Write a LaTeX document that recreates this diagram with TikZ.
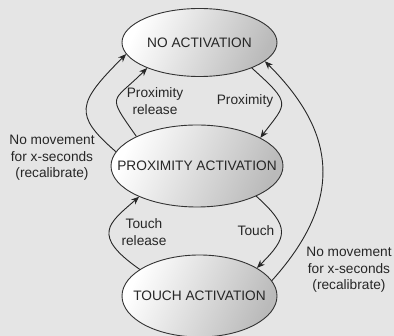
\documentclass[tikz,border=0pt]{standalone}
\usepackage{fontspec}
\setmainfont{Liberation Sans}
\usetikzlibrary{shapes.geometric,arrows.meta}

\tikzset{
    state/.style={ellipse, draw=black!80, line width=0.9pt, inner sep=0pt,
        left color=white, right color=black!27, shading angle=65,
        text=black!85, font=\fontsize{13.7}{16.7}\selectfont},
    trans/.style={line width=0.9pt, black!85, -{Stealth[length=8pt,width=6.5pt]}},
    lbl/.style={align=center, text=black!85, inner sep=0pt,
        font=\fontsize{13.7}{16.7}\selectfont}
}
% state name that may run up to the rim of its ellipse
\newcommand{\statename}[1]{\makebox[0pt]{#1}}

\begin{document}
\begin{tikzpicture}[x=1pt,y=-1pt]
\fill[black!10] (0,0) rectangle (394,336);
\useasboundingbox (0,0) rectangle (394,336);

% the three states
\node[state, minimum width=155pt, minimum height=68pt] (noact) at (199.5,42.5) {\statename{NO ACTIVATION}};
\node[state, minimum width=172pt, minimum height=82pt] (proxact) at (197,166) {\statename{PROXIMITY ACTIVATION}};
\node[state, minimum width=155pt, minimum height=82pt] (touchact) at (199.5,296) {\statename{TOUCH ACTIVATION}};

% transitions
\draw[trans] (proxact.154) to[out=125, in=225, out looseness=1.95, in looseness=1.85] (noact.206);
\draw[trans] (proxact.170) to[out=139, in=225, out looseness=1.47, in looseness=1.81] (noact.189);
\draw[trans] (noact.334) to[out=-42, in=53, out looseness=1.99, in looseness=1.61] (proxact.24);
\draw[trans] (touchact.12) to[out=48, in=315, out looseness=1.39, in looseness=1.04] (noact.344);
\draw[trans] (touchact.156) to[out=145, in=221, out looseness=2.1, in looseness=1.43] (proxact.208);
\draw[trans] (proxact.333) to[out=-42, in=45, out looseness=1.66, in looseness=1.54] (touchact.26);

% labels
\node[lbl] (proxrel) at (155,101) {Proximity\\release};
\node[lbl] (prox) at (245,101) {Proximity};
\node[lbl] (nomove1) at (52,158) {No movement\\for x-seconds\\(recalibrate)};
\node[lbl] (touchrel) at (144,232) {Touch\\release};
\node[lbl] (touch) at (256,231) {Touch};
\node[lbl] (nomove2) at (349,270) {No movement\\for x-seconds\\(recalibrate)};
\end{tikzpicture}
\end{document}
